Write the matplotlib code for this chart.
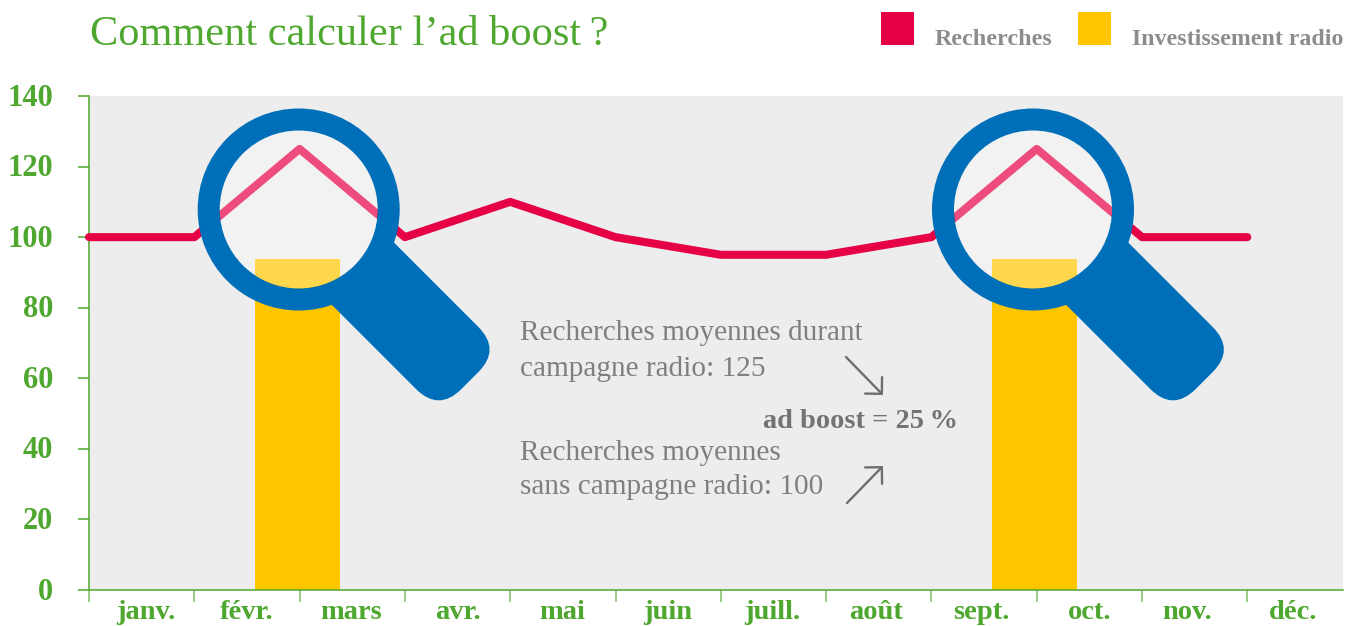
import matplotlib
matplotlib.use("Agg")
import matplotlib.pyplot as plt
from matplotlib.patches import Circle, PathPatch, Rectangle
from matplotlib.path import Path
from matplotlib.transforms import Affine2D, ScaledTranslation

months = ["janv.", "févr.", "mars", "avr.", "mai", "juin", "juill.", "août", "sept.", "oct.", "nov.", "déc."]
searches = [100, 100, 125, 100, 110, 100, 95, 95, 100, 125, 100, 100]
radio_months = [2, 9]
radio_values = [93.8, 93.8]
y_ticks = [0, 20, 40, 60, 80, 100, 120, 140]
label_centres_px = [146, 247, 351, 458, 562, 668, 772, 876, 981, 1090, 1187, 1293]

RED, YELLOW, BLUE, GREEN = "#E60046", "#FFC600", "#006FBA", "#4EA72E"
plt.rcParams["font.family"] = ["Liberation Serif", "DejaVu Serif"]

W, H = 1360, 626
fig = plt.figure(figsize=(W / 100, H / 100), dpi=100, facecolor="white")
L, R, T, B = 89, 1343, 96, 590
ax = fig.add_axes([L / W, 1 - B / H, (R - L) / W, (B - T) / H], facecolor="#EDEDED")
step = 105.3
ax.set_xlim(0, (R - L) / step)
ax.set_ylim(0, 140)

ax.bar([m - 0.02 for m in radio_months], radio_values, width=85 / step, color=YELLOW, zorder=2)
ax.plot(range(len(months)), searches, color=RED, lw=5.8, solid_capstyle="round",
        solid_joinstyle="round", zorder=3, clip_on=False)

for s in ("top", "right"):
    ax.spines[s].set_visible(False)
for s in ("left", "bottom"):
    ax.spines[s].set_color(GREEN)
    ax.spines[s].set_linewidth(1.1)
ax.set_xticks(range(len(months)))
ax.set_xticklabels([])
ax.set_xticks([(c - L) / step for c in label_centres_px], minor=True)
ax.set_xticklabels(months, minor=True, fontsize=20.5, fontweight="bold", color=GREEN)
ax.tick_params(axis="x", which="major", length=8.5, width=1.1, color="#7FBF66")
ax.tick_params(axis="x", which="minor", length=0, pad=7)
ax.set_yticks(y_ticks)
ax.set_yticklabels([str(v) for v in y_ticks], fontsize=22, fontweight="bold", color=GREEN)
ax.tick_params(axis="y", length=8, width=1.1, color=GREEN, pad=18)
for lab in ax.get_yticklabels():
    lab.set_transform(lab.get_transform() + ScaledTranslation(0, 1.5 / 100, fig.dpi_scale_trans))

# pixel-space transform (origin top-left)
px = Affine2D().scale(1, -1).translate(0, H)

def magnifier(cx, cy):
    outer, inner = 101, 79
    ax.add_patch(Circle((cx, cy), inner, transform=px, facecolor="white", alpha=0.3,
                        edgecolor="none", zorder=4, clip_on=False))
    ax.add_patch(Circle((cx, cy), (outer + inner) / 2, transform=px, facecolor="none",
                        edgecolor=BLUE, linewidth=(outer - inner) * 0.72, zorder=6, clip_on=False))
    x0, x1, hw, r = 88, 242, 44, 32
    verts = [(x0, -hw), (x1 - r, -hw), (x1, -hw), (x1, -hw + r), (x1, hw - r), (x1, hw),
             (x1 - r, hw), (x0, hw), (x0, -hw)]
    codes = [Path.MOVETO, Path.LINETO, Path.CURVE3, Path.CURVE3, Path.LINETO, Path.CURVE3,
             Path.CURVE3, Path.LINETO, Path.CLOSEPOLY]
    tr = Affine2D().rotate_deg(45).translate(cx, cy) + px
    ax.add_patch(PathPatch(Path(verts, codes), transform=tr, facecolor=BLUE, edgecolor="none",
                           zorder=5, clip_on=False))

magnifier(298.7, 209.5)
magnifier(1033, 209.5)

def ptext(x, y, s, **kw):
    fig.text(x / W, 1 - y / H, s, va="baseline", ha="left", **kw)

ptext(90, 45, "Comment calculer l’ad boost\u2009?", fontsize=30.5, color=GREEN)

for x0, c in ((881, RED), (1078, YELLOW)):
    fig.add_artist(Rectangle((x0, 12), 33, 33, transform=px, facecolor=c, edgecolor="none"))
ptext(935, 45, "Recherches", fontsize=17.4, fontweight="bold", color="#8C8C8C")
ptext(1132, 45, "Investissement radio", fontsize=17.2, fontweight="bold", color="#8C8C8C")

gray = "#7F7F7F"
ptext(520, 340.5, "Recherches moyennes durant", fontsize=21.1, color=gray)
ptext(520, 375.5, "campagne radio: 125", fontsize=21.1, color=gray)
ptext(520, 459.5, "Recherches moyennes", fontsize=21.1, color=gray)
ptext(520, 494.5, "sans campagne radio: 100", fontsize=21.1, color=gray)
ptext(763, 428, "ad boost = 25\u2009%", fontsize=20.4, fontweight="bold", color="#737373")

for start, end in (((846, 357), (883, 395)), ((847, 503), (883, 466))):
    ax.annotate("", xy=end, xytext=start, xycoords=px, textcoords=px, zorder=7,
                arrowprops=dict(arrowstyle="->,head_length=0.85,head_width=0.85", color="#6E6E6E",
                                lw=1.7, shrinkA=0, shrinkB=0), annotation_clip=False)

fig.savefig("out.png", dpi=100, facecolor="white")
